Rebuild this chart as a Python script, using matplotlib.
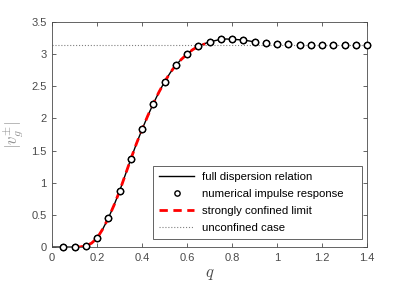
import numpy as np
import matplotlib.pyplot as plt

plt.rcParams['font.family'] = ['Liberation Sans', 'DejaVu Sans']
plt.rcParams['mathtext.fontset'] = 'cm'

# numerical impulse response (circles)
q_pts = [0.05, 0.1, 0.15, 0.2, 0.25, 0.3, 0.35, 0.4, 0.45, 0.5, 0.55, 0.6, 0.65, 0.7,
         0.75, 0.8, 0.85, 0.9, 0.95, 1.0, 1.05, 1.1, 1.15, 1.2, 1.25, 1.3, 1.35, 1.4]
v_pts = [0.0, 0.0, 0.01, 0.14, 0.45, 0.87, 1.37, 1.83, 2.23, 2.57, 2.83, 3.0, 3.12, 3.19,
         3.23, 3.23, 3.22, 3.19, 3.17, 3.16, 3.15, 3.14, 3.14, 3.14, 3.14, 3.14, 3.14, 3.14]

# full dispersion relation
q_full = [0.0, 0.025, 0.05, 0.075, 0.1, 0.125, 0.15, 0.175, 0.2, 0.225, 0.25, 0.275, 0.3,
          0.325, 0.35, 0.375, 0.4, 0.425, 0.45, 0.475, 0.5, 0.525, 0.55, 0.575, 0.6,
          0.625, 0.65, 0.675, 0.7, 0.725, 0.75, 0.775, 0.8, 0.825, 0.85, 0.875, 0.9]
v_full = [0.0, 0.0, 0.0, 0.0, 0.0, 0.003, 0.02, 0.06, 0.14, 0.28, 0.45, 0.65, 0.87,
          1.12, 1.37, 1.61, 1.83, 2.04, 2.23, 2.41, 2.57, 2.71, 2.83, 2.92, 3.0,
          3.07, 3.12, 3.16, 3.19, 3.21, 3.23, 3.235, 3.23, 3.225, 3.22, 3.205, 3.19]

# strongly confined limit
q_conf = [0.1, 0.125, 0.15, 0.175, 0.2, 0.225, 0.25, 0.275, 0.3, 0.325, 0.35, 0.375, 0.4,
          0.425, 0.45, 0.475, 0.5, 0.525, 0.55, 0.575, 0.6, 0.625, 0.65, 0.68]
v_conf = [0.0, 0.003, 0.02, 0.06, 0.14, 0.28, 0.45, 0.65, 0.87, 1.12, 1.37, 1.61, 1.83,
          2.04, 2.23, 2.41, 2.57, 2.71, 2.83, 2.92, 3.0, 3.07, 3.12, 3.16]

v_unconf = np.pi

fig = plt.figure(figsize=(4.07, 2.85), dpi=100)
ax = fig.add_axes([0.128, 0.133, 0.774, 0.79])

ax.plot(q_full, v_full, color="black", lw=1.0, label="full dispersion relation")
ax.plot(q_pts, v_pts, "o", ms=4.5, mfc="white", mec="black", mew=1.0,
        label="numerical impulse response", clip_on=False)
ax.plot(q_conf, v_conf, "--", color="red", lw=2.0, dashes=(3, 2),
        label="strongly confined limit")
ax.plot([0, 1.4], [v_unconf, v_unconf], ":", color="gray", lw=0.8,
        label="unconfined case")
# redraw circles on top
ax.plot(q_pts, v_pts, "o", ms=4.5, mfc="white", mec="black", mew=1.0, clip_on=False,
        zorder=5)

ax.set_xlim(0, 1.4)
ax.set_ylim(0, 3.5)
ax.set_xticks(np.arange(0, 1.41, 0.2))
ax.set_xticklabels(["0", "0.2", "0.4", "0.6", "0.8", "1", "1.2", "1.4"])
ax.set_yticks(np.arange(0, 3.51, 0.5))
ax.set_yticklabels(["0", "0.5", "1", "1.5", "2", "2.5", "3", "3.5"])
ax.tick_params(direction="in", top=True, right=True, labelsize=8, colors="#4a4a4a",
               length=3, width=0.6, pad=4)
for s in ax.spines.values():
    s.set_color("#4a4a4a")
    s.set_linewidth(0.6)

ax.set_xlabel("$q$", fontsize=12, color="#4a4a4a", labelpad=3)
ax.set_ylabel(r"$|v_g^{\pm}|$", fontsize=12, color="#909090", labelpad=4)

leg = ax.legend(loc="lower left", mode="expand", fontsize=8.2, handlelength=3.0,
                fancybox=False, edgecolor="#4a4a4a", framealpha=1, borderpad=0.55,
                labelspacing=0.6, handletextpad=0.7, markerscale=0.85,
                borderaxespad=0, bbox_to_anchor=(0.321, 0.036, 0.663, 0.3))
leg.get_frame().set_linewidth(0.6)

fig.savefig("out.png", dpi=100)
